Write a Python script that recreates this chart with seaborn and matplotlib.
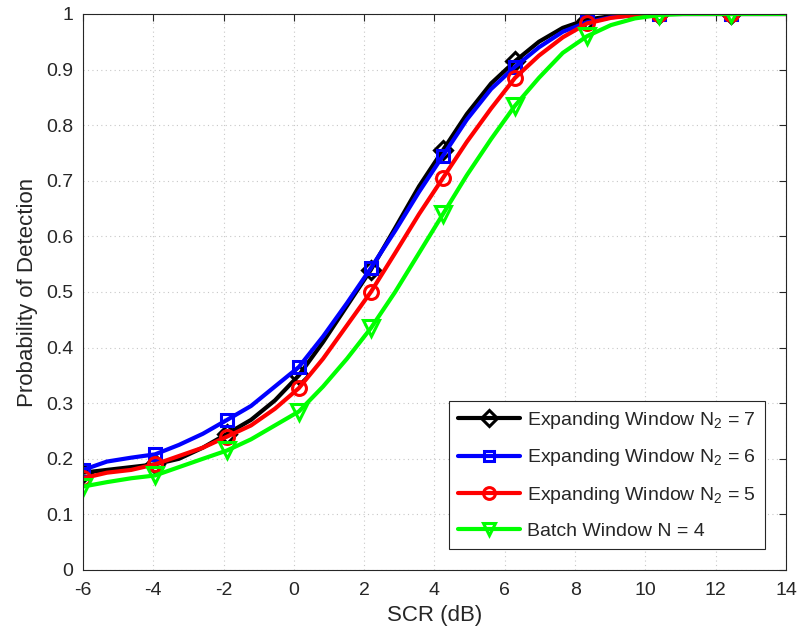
import numpy as np
import pandas as pd
import matplotlib
matplotlib.use("Agg")
import matplotlib.pyplot as plt
import seaborn as sns

# ---- data ----
scr_db = [-6.00, -5.32, -4.63, -3.95, -3.27, -2.59, -1.90, -1.22, -0.54, 0.14,
          0.83, 1.51, 2.19, 2.88, 3.56, 4.24, 4.92, 5.61, 6.29, 6.97,
          7.65, 8.34, 9.02, 9.70, 10.38, 11.07, 11.75, 12.43, 13.11, 14.00]

pd_exp7 = [0.175, 0.180, 0.185, 0.190, 0.200, 0.220, 0.245, 0.270, 0.305, 0.350,
           0.410, 0.475, 0.540, 0.615, 0.690, 0.755, 0.820, 0.875, 0.915, 0.950,
           0.975, 0.990, 0.996, 0.999, 1.000, 1.000, 1.000, 1.000, 1.000, 1.000]
pd_exp6 = [0.180, 0.195, 0.202, 0.208, 0.225, 0.245, 0.270, 0.295, 0.330, 0.365,
           0.420, 0.480, 0.543, 0.610, 0.680, 0.745, 0.810, 0.865, 0.905, 0.940,
           0.968, 0.985, 0.994, 0.998, 1.000, 1.000, 1.000, 1.000, 1.000, 1.000]
pd_exp5 = [0.165, 0.175, 0.180, 0.190, 0.205, 0.220, 0.240, 0.260, 0.290, 0.327,
           0.380, 0.440, 0.500, 0.570, 0.640, 0.705, 0.770, 0.830, 0.885, 0.925,
           0.958, 0.983, 0.993, 0.998, 1.000, 1.000, 1.000, 1.000, 1.000, 1.000]
pd_batch4 = [0.150, 0.158, 0.165, 0.170, 0.185, 0.200, 0.215, 0.235, 0.260, 0.285,
             0.330, 0.380, 0.435, 0.500, 0.570, 0.640, 0.710, 0.775, 0.835, 0.885,
             0.930, 0.960, 0.980, 0.992, 0.998, 1.000, 1.000, 1.000, 1.000, 1.000]

series_labels = ["Expanding Window N$_2$ = 7", "Expanding Window N$_2$ = 6",
                 "Expanding Window N$_2$ = 5", "Batch Window N = 4"]
x_ticks = [-6, -4, -2, 0, 2, 4, 6, 8, 10, 12, 14]
y_ticks = [0, 0.1, 0.2, 0.3, 0.4, 0.5, 0.6, 0.7, 0.8, 0.9, 1]
y_tick_labels = ["0", "0.1", "0.2", "0.3", "0.4", "0.5", "0.6", "0.7", "0.8", "0.9", "1"]

sns.set_theme(style="white")
plt.rcParams["font.family"] = ["Liberation Sans", "DejaVu Sans"]
plt.rcParams["mathtext.fontset"] = "custom"
plt.rcParams["mathtext.rm"] = "Liberation Sans"
plt.rcParams["mathtext.it"] = "Liberation Sans"
plt.rcParams["mathtext.default"] = "regular"

fig = plt.figure(figsize=(7.99, 6.38), dpi=100)
ax = fig.add_axes([0.1039, 0.1066, 0.8798, 0.8715])

styles = [
    (pd_exp7, "#000000", "D", 9),
    (pd_exp6, "#0000ff", "s", 8.5),
    (pd_exp5, "#ff0000", "o", 10),
    (pd_batch4, "#00ff00", "v", 11),
]
for (vals, col, mk, ms), lab in zip(styles, series_labels):
    sns.lineplot(x=scr_db, y=vals, ax=ax, color=col, linewidth=3, marker=mk,
                 markersize=ms, markerfacecolor="none", markeredgecolor=col,
                 markeredgewidth=2.2, markevery=3, label=lab)

ax.set_xlim(-6, 14)
ax.set_ylim(0, 1)
ax.set_xticks(x_ticks)
ax.set_xticklabels([str(t) for t in x_ticks])
ax.set_yticks(y_ticks)
ax.set_yticklabels(y_tick_labels)
ax.grid(True, linestyle=(0, (1, 3)), color="#c8c8c8", linewidth=0.8)
ax.tick_params(axis="both", direction="in", length=5, width=0.8, colors="#262626",
               labelsize=14, top=True, right=True)
ax.tick_params(axis="x", pad=9)
ax.tick_params(axis="y", pad=7)
for s in ax.spines.values():
    s.set_color("#262626")
    s.set_linewidth(0.8)
ax.set_xlabel("SCR (dB)", fontsize=16, color="#262626", labelpad=4)
ax.set_ylabel("Probability of Detection", fontsize=16, color="#262626", labelpad=6)

leg = ax.legend(loc="lower right", bbox_to_anchor=(0.970, 0.038), borderaxespad=0,
                fontsize=14, frameon=True, fancybox=False, edgecolor="#262626",
                framealpha=1, handlelength=3.2, labelspacing=0.85, borderpad=0.45,
                handletextpad=0.35, markerscale=0.85)
leg.get_frame().set_linewidth(0.8)

fig.savefig("out.png", dpi=100)
